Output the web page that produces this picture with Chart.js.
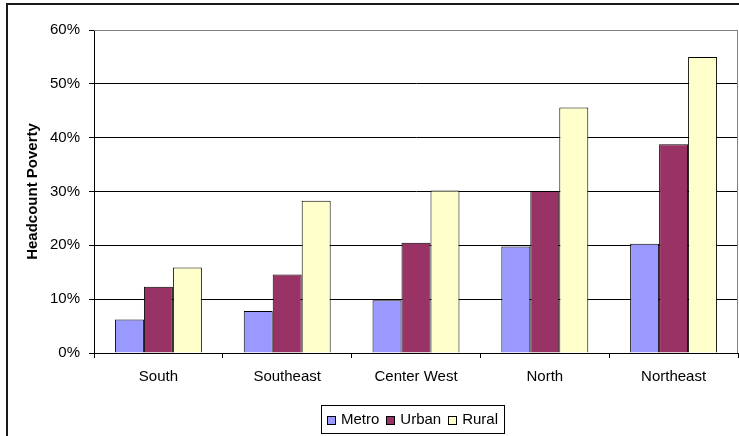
<!DOCTYPE html>
<html>
<head>
<meta charset="utf-8">
<script src="https://cdn.jsdelivr.net/npm/chart.js@4.4.1/dist/chart.umd.min.js"></script>
<style>
  html, body { margin: 0; padding: 0; background: #fff; }
  #wrap { position: relative; width: 739px; height: 436px; overflow: hidden; }
  #frame { position: absolute; left: 6px; top: 3px; width: 800px; height: 500px; border: 2px solid #1a1a1a; }
  #chart { position: absolute; left: 0; top: 0; }
</style>
</head>
<body>
<div id="wrap">
  <div id="frame"></div>
  <canvas id="chart" width="739" height="436"></canvas>
</div>
<script>
const regions = ['South', 'Southeast', 'Center West', 'North', 'Northeast'];
const metro = [6.2, 7.8, 9.8, 19.8, 20.3];
const urban = [12.3, 14.6, 20.5, 30.1, 38.8];
const rural = [15.9, 28.3, 30.2, 45.6, 55.0];
const yTicks = [0, 10, 20, 30, 40, 50, 60];

const FONT = 'Arial, "Liberation Sans", sans-serif';
const FSIZE = 15;

// gray frame around the plot (top and right edges)
const plotFrame = {
  id: 'plotFrame',
  afterDraw(chart) {
    const { ctx, chartArea: a } = chart;
    ctx.save();
    ctx.strokeStyle = '#808080';
    ctx.lineWidth = 1;
    ctx.beginPath();
    ctx.moveTo(a.left, a.top + 0.5);
    ctx.lineTo(a.right - 0.5, a.top + 0.5);
    ctx.lineTo(a.right - 0.5, a.bottom);
    ctx.stroke();
    ctx.restore();
  }
};

// boxed legend under the axis
const boxLegend = {
  id: 'boxLegend',
  afterDraw(chart) {
    const { ctx } = chart;
    const sets = chart.data.datasets;
    ctx.save();
    ctx.font = FSIZE + 'px ' + FONT;
    ctx.textBaseline = 'middle';
    const sq = 9, gapText = 5, gapItem = 7, padX = 6;
    let total = 0;
    sets.forEach((d, i) => {
      total += sq + gapText + ctx.measureText(d.label).width;
      if (i < sets.length - 1) total += gapItem;
    });
    const boxW = Math.round(total + padX * 2);
    const boxL = 321, boxT = 405, boxH = 28;
    ctx.strokeStyle = '#000';
    ctx.lineWidth = 1;
    ctx.strokeRect(boxL + 0.5, boxT + 0.5, boxW, boxH);
    let x = boxL + padX;
    const cy = boxT + boxH / 2 + 1;
    sets.forEach(d => {
      const sx = Math.round(x);
      ctx.fillStyle = d.backgroundColor;
      ctx.fillRect(sx, cy - 4, sq, sq);
      ctx.strokeStyle = '#000';
      ctx.strokeRect(sx + 0.5, cy - 4 + 0.5, sq - 1, sq - 1);
      x += sq + gapText;
      ctx.fillStyle = '#000';
      ctx.fillText(d.label, x, cy);
      x += ctx.measureText(d.label).width + gapItem;
    });
    ctx.restore();
  }
};

new Chart(document.getElementById('chart'), {
  type: 'bar',
  data: {
    labels: regions,
    datasets: [
      { label: 'Metro', data: metro, backgroundColor: '#9999FF' },
      { label: 'Urban', data: urban, backgroundColor: '#993366' },
      { label: 'Rural', data: rural, backgroundColor: '#FFFFCC' }
    ]
  },
  options: {
    responsive: false,
    animation: false,
    devicePixelRatio: 1,
    layout: { padding: { left: 9, top: 30, right: 1, bottom: 0 } },
    datasets: {
      bar: {
        borderColor: '#000',
        borderWidth: 1,
        categoryPercentage: 0.675,
        barPercentage: 1
      }
    },
    plugins: {
      legend: { display: false },
      tooltip: { enabled: false }
    },
    scales: {
      x: {
        afterFit(scale) { scale.height = 83; },
        grid: {
          drawOnChartArea: false,
          drawTicks: true,
          tickLength: 5,
          color: '#000'
        },
        border: { color: '#000', width: 1 },
        ticks: {
          padding: 10,
          color: '#000',
          font: { family: FONT, size: FSIZE }
        }
      },
      y: {
        min: 0,
        max: 60,
        afterFit(scale) { scale.width = 85; },
        afterBuildTicks(scale) { scale.ticks = yTicks.map(v => ({ value: v })); },
        grid: {
          color: ctx => ctx.tick && ctx.tick.value === 60 ? '#808080' : '#000',
          tickLength: 5,
          tickColor: '#000'
        },
        border: { color: '#000', width: 1 },
        ticks: {
          padding: 9,
          color: '#000',
          font: { family: FONT, size: FSIZE },
          callback: v => v + '%'
        },
        title: {
          display: true,
          text: 'Headcount Poverty',
          color: '#000',
          font: { family: FONT, size: FSIZE, weight: 'bold' },
          padding: { top: 15, bottom: 0 }
        }
      }
    }
  },
  plugins: [plotFrame, boxLegend]
});
</script>
</body>
</html>
